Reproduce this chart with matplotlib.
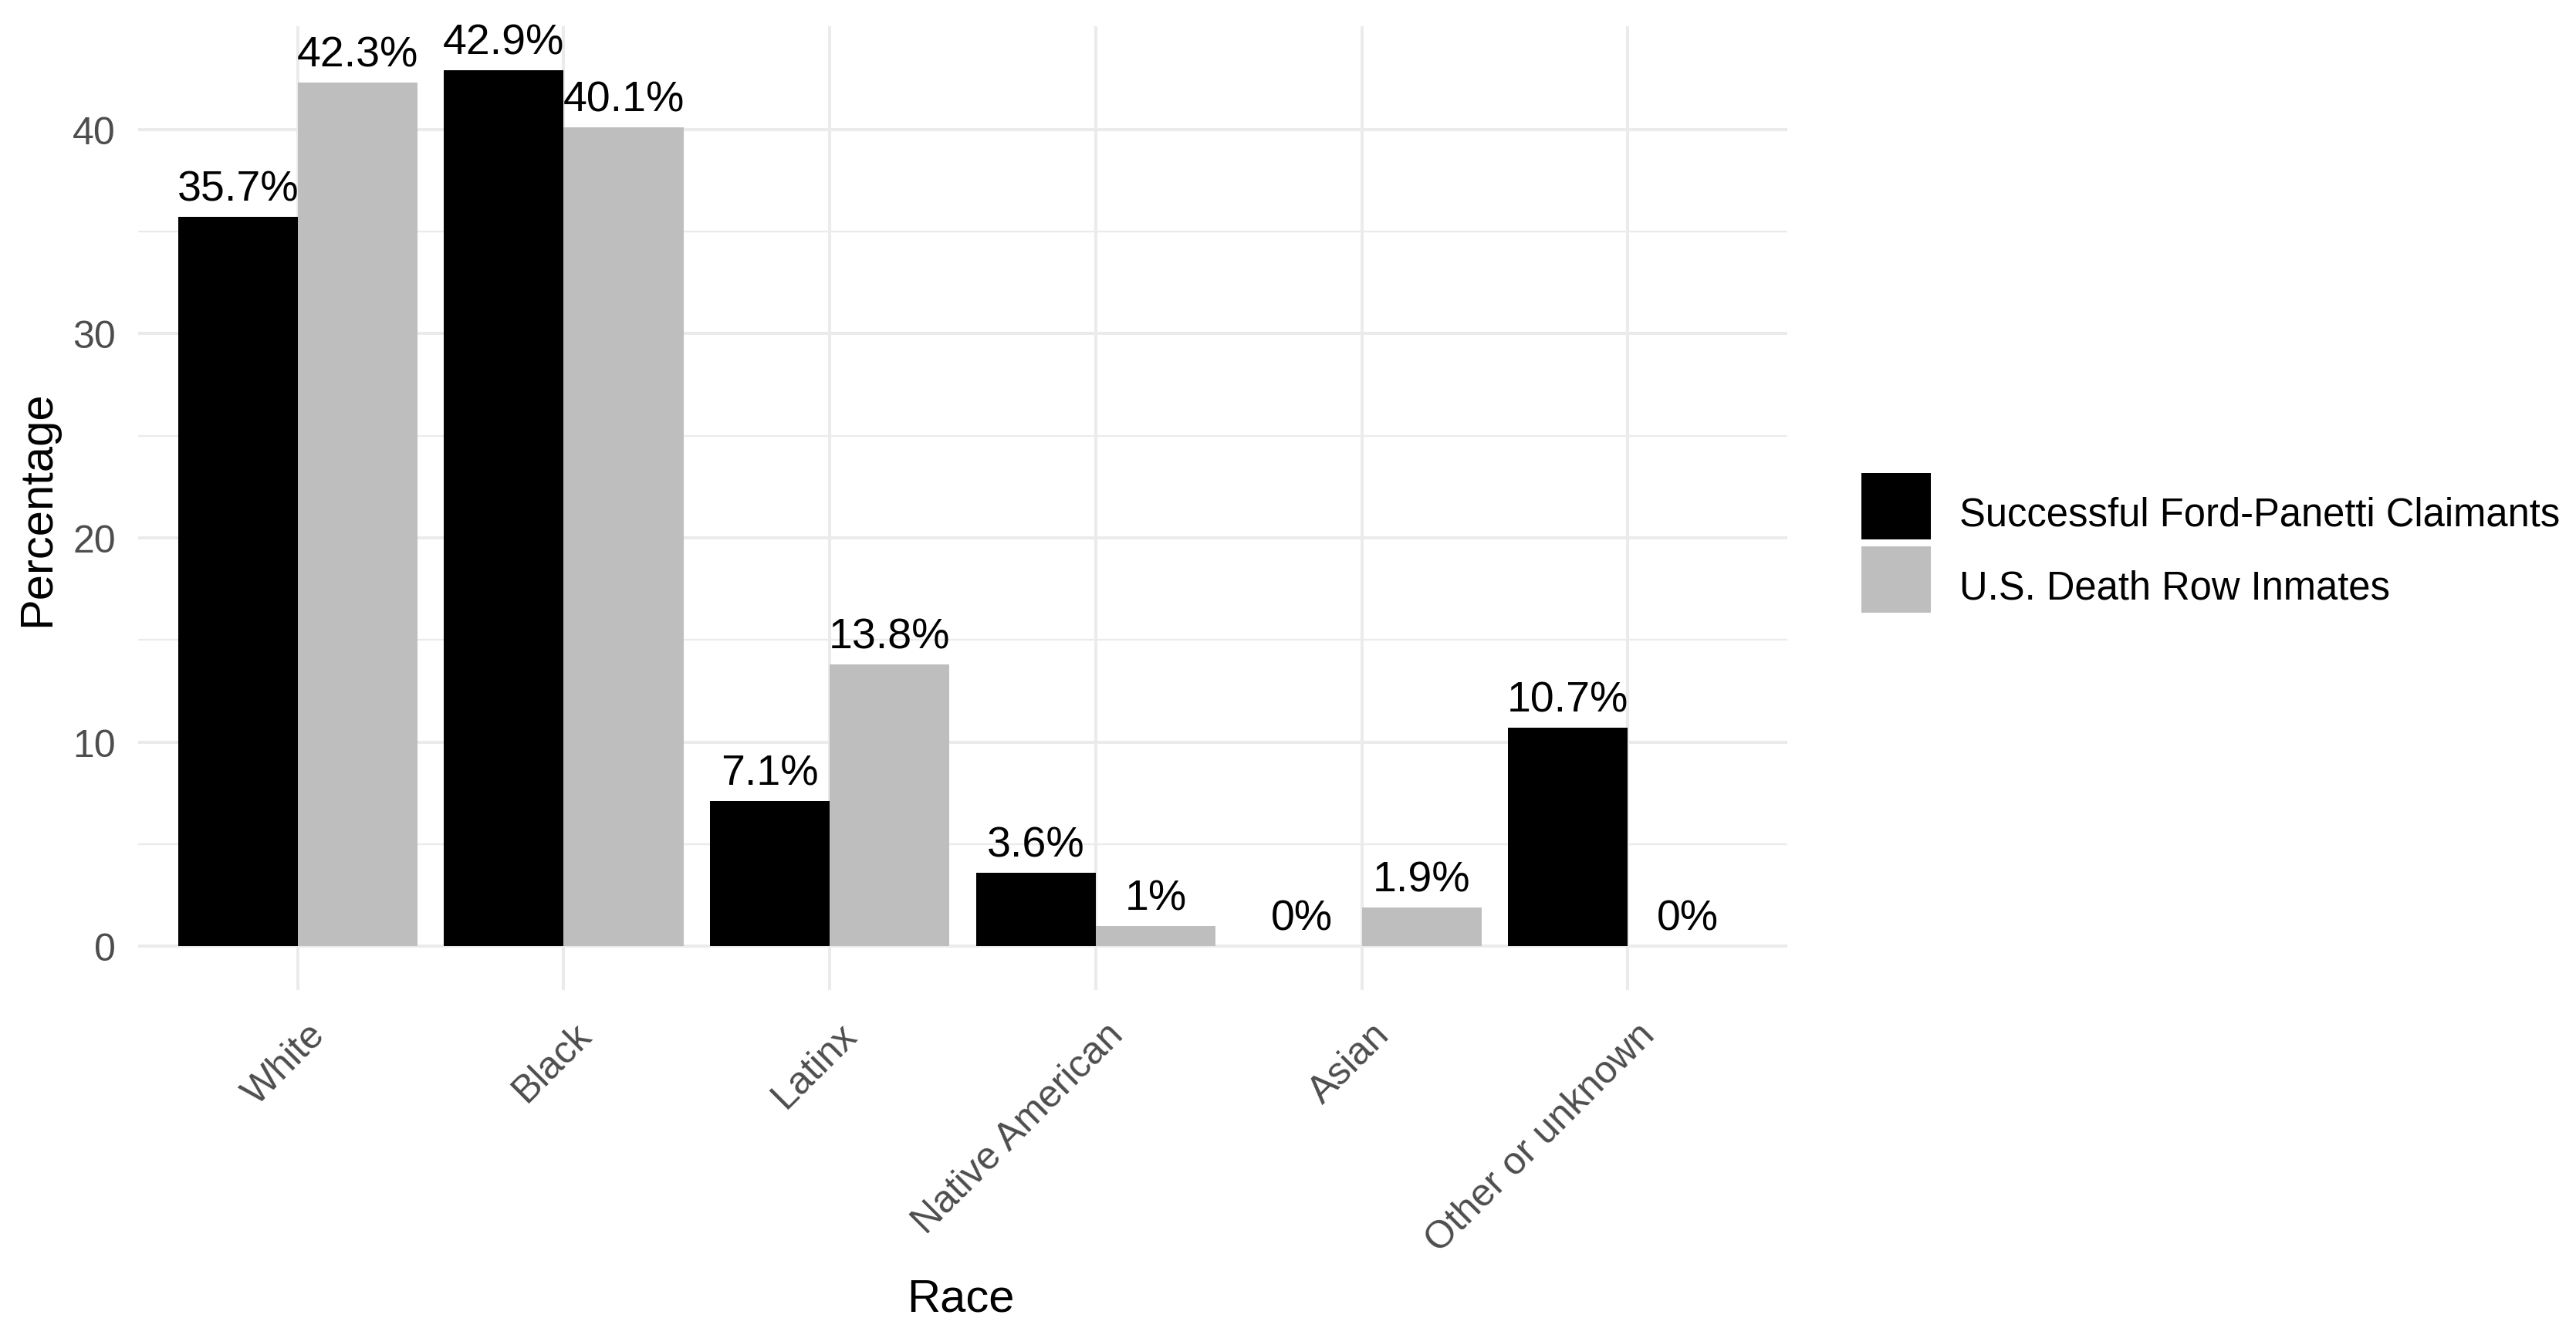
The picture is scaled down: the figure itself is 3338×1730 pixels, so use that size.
import numpy as np
import matplotlib
matplotlib.use("Agg")
import matplotlib.pyplot as plt
from matplotlib.transforms import ScaledTranslation
from matplotlib.patches import Patch

# ---- data ----
categories = ["White", "Black", "Latinx", "Native American", "Asian", "Other or unknown"]
series_names = ["Successful Ford-Panetti Claimants", "U.S. Death Row Inmates"]
claimants = [35.7, 42.9, 7.1, 3.6, 0.0, 10.7]
inmates = [42.3, 40.1, 13.8, 1.0, 1.9, 0.0]
y_ticks = [0, 10, 20, 30, 40]
y_minor = [5, 15, 25, 35]
x_title = "Race"
y_title = "Percentage"

colors = ["#000000", "#BEBEBE"]
grid_col = "#EBEBEB"
font = "Liberation Sans"
plt.rcParams["font.family"] = [font, "DejaVu Sans"]

DPI = 100
fig = plt.figure(figsize=(3338 / DPI, 1731 / DPI), dpi=DPI)
fig.patch.set_facecolor("white")
ax = fig.add_axes([179 / 3338, 1 - 1284 / 1731, (2316 - 179) / 3338, (1284 - 35) / 1731])

x = np.arange(len(categories))
w = 0.45
series = [claimants, inmates]
offsets = [-w / 2, w / 2]
for vals, off, col in zip(series, offsets, colors):
    ax.bar(x + off, vals, width=w, color=col, linewidth=0, zorder=2)
    for xi, v in zip(x + off, vals):
        ax.annotate(f"{v:g}%", xy=(xi, v), xytext=(0, 15.5), textcoords="offset points",
                    ha="center", va="baseline", fontsize=40, color="black", zorder=3)

ymax = max(max(claimants), max(inmates))
ax.set_ylim(-0.05 * ymax, 1.05 * ymax)
ax.set_xlim(-0.6, len(categories) - 0.4)

ax.set_yticks(y_ticks)
ax.set_yticks(y_minor, minor=True)
ax.set_xticks(x)
ax.set_xticklabels(categories)
ax.grid(True, which="major", color=grid_col, linewidth=2.9, zorder=0)
ax.grid(True, which="minor", axis="y", color=grid_col, linewidth=1.6, zorder=0)
ax.set_axisbelow(True)
for s in ax.spines.values():
    s.set_visible(False)
ax.tick_params(axis="both", which="both", length=0)
ax.tick_params(axis="y", labelsize=36, labelcolor="#4D4D4D", pad=20.9)
ax.tick_params(axis="x", labelsize=36, labelcolor="#4D4D4D", pad=0)

off = ScaledTranslation(12 / DPI, -34 / DPI, fig.dpi_scale_trans)
for lbl in ax.get_xticklabels():
    lbl.set_rotation(45)
    lbl.set_ha("right")
    lbl.set_va("top")
    lbl.set_rotation_mode("anchor")
    lbl.set_transform(lbl.get_transform() + off)

ax.set_xlabel(x_title, fontsize=43, color="black")
ax.xaxis.set_label_coords(0.4988, (1284 - 1700) / 1249)
ax.xaxis.label.set_va("baseline")

ax.set_ylabel(y_title, fontsize=43, color="black")
ax.yaxis.label.set_rotation_mode("anchor")
ax.yaxis.label.set_va("baseline")
ax.yaxis.label.set_ha("center")
ax.yaxis.set_label_coords((64 - 179) / 2137, 0.5)

handles = [Patch(facecolor=c, edgecolor="none", linewidth=0) for c in colors]
leg = fig.legend(handles, series_names, loc="center left",
                 bbox_to_anchor=(2412 / 3338, 1 - 704.5 / 1731),
                 frameon=False, fontsize=36.5, handlelength=1.77, handleheight=2.23,
                 labelspacing=0.177, handletextpad=0.73, borderpad=0, borderaxespad=0)
txt_off = ScaledTranslation(0, -9 / DPI, fig.dpi_scale_trans)
for t in leg.get_texts():
    t.set_transform(t.get_transform() + txt_off)

fig.savefig("out.png", dpi=DPI, facecolor="white")
